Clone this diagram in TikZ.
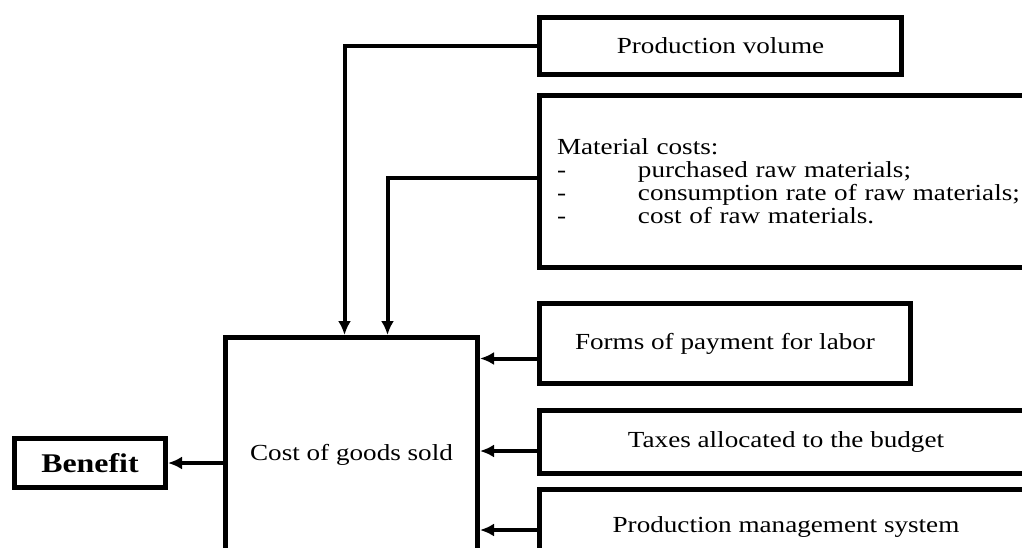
\documentclass[tikz,border=0pt]{standalone}
\usepackage{fontspec}
\setmainfont[FakeStretch=1.18]{Liberation Serif}
\usetikzlibrary{arrows.meta}
\tikzset{
  factor/.style={draw,line width=5pt,inner sep=0pt,font=\fontsize{23}{23}\selectfont},
  result/.style={factor,font=\fontsize{27}{27}\selectfont\bfseries},
  stream/.style={line width=4pt,-{Latex[length=14pt,width=13pt]}}
}
\newcommand{\matline}[1]{\makebox[81pt][l]{-}\mbox{#1}}

\begin{document}
\begin{tikzpicture}[x=1pt,y=-1pt]
      \clip (0,0) rectangle (1022,547);
      \node[factor,minimum width=362pt,minimum height=57pt] (volume) at (720.5,46) {Production volume};
      \node[factor,minimum width=493pt,minimum height=172pt,text width=458pt,align=left] (material) at (786,181.5)
        {Material costs:\\ \matline{purchased raw materials;}\\ \matline{consumption rate of raw materials;}\\ \matline{cost of raw materials.}};
      \node[factor,minimum width=371pt,minimum height=80pt] (labor) at (725,343.5) {Forms of payment for labor};
      \node[factor,minimum width=493pt,minimum height=63pt] (taxes) at (786,442) {Taxes allocated to the budget};
      \node[factor,minimum width=493pt,minimum height=75pt] (management) at (786,527) {Production management system};
      \node[factor,minimum width=252pt,minimum height=235pt] (cogs) at (351.5,455) {Cost of goods sold};
      \node[result,minimum width=151pt,minimum height=49pt] (benefit) at (90,463) {Benefit};

      \coordinate (labor in) at ([yshift=-15pt]labor.west);
      \coordinate (taxes in) at ([yshift=-9pt]taxes.west);
      \coordinate (management in) at ([yshift=-3pt]management.west);

      \draw[stream] (volume.west) -| ([xshift=-7pt]cogs.north);
      \draw[stream] ([yshift=4pt]material.west) -| ([xshift=36pt]cogs.north);
      \draw[stream] (labor in) -- (labor in -| cogs.east);
      \draw[stream] (taxes in) -- (taxes in -| cogs.east);
      \draw[stream] (management in) -- (management in -| cogs.east);
      \draw[stream] (cogs.west |- benefit.east) -- (benefit.east);
    \end{tikzpicture}
\end{document}
